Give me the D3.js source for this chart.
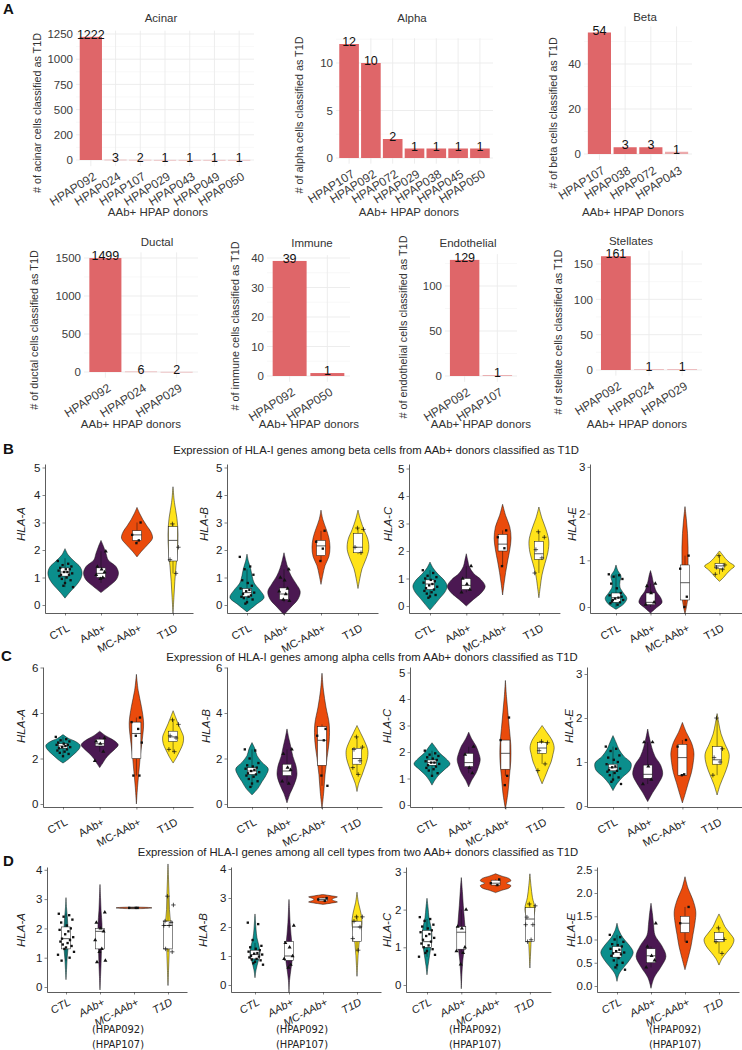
<!DOCTYPE html>
<html lang="en">
<head>
<meta charset="UTF-8">
<title>HLA-I expression in AAb+ donors classified as T1D</title>
<script src="https://cdn.jsdelivr.net/npm/d3@7"></script>
<style>
    body { margin: 0; background: #fff; }
    svg { display: block; font-family: "Liberation Sans", Arial, sans-serif; }
</style>
</head>
<body>
<svg id="fig" width="742" height="1050"></svg>
<script>
// ---------- panel A data ----------
const acinarDonors = ["HPAP092", "HPAP024", "HPAP107", "HPAP029", "HPAP043", "HPAP049", "HPAP050"];
const acinarCounts = [1222, 3, 2, 1, 1, 1, 1];
const alphaDonors = ["HPAP107", "HPAP092", "HPAP072", "HPAP029", "HPAP038", "HPAP045", "HPAP050"];
const alphaCounts = [12, 10, 2, 1, 1, 1, 1];
const betaDonors = ["HPAP107", "HPAP038", "HPAP072", "HPAP043"];
const betaCounts = [54, 3, 3, 1];
const ductalDonors = ["HPAP092", "HPAP024", "HPAP029"];
const ductalCounts = [1499, 6, 2];
const immuneDonors = ["HPAP092", "HPAP050"];
const immuneCounts = [39, 1];
const endoDonors = ["HPAP092", "HPAP107"];
const endoCounts = [129, 1];
const stellateDonors = ["HPAP092", "HPAP024", "HPAP029"];
const stellateCounts = [161, 1, 1];

const acinarTicks = [0, 250, 500, 750, 1000, 1250];
const acinarTickLabels = ["0", "200", "500", "750", "1000", "1250"]; // as printed in the figure
const alphaTicks = [0, 5, 10];
const betaTicks = [0, 20, 40];
const ductalTicks = [0, 500, 1000, 1500];
const immuneTicks = [0, 10, 20, 30, 40];
const endoTicks = [0, 50, 100];
const stellateTicks = [0, 50, 100, 150];

// ---------- panels B-D data ----------
const groups = ["CTL", "AAb+", "MC-AAb+", "T1D"];
const genes = ["HLA-A", "HLA-B", "HLA-C", "HLA-E"];
const donorNotes = ["(HPAP092)", "(HPAP107)"];

// violin = [low end, high end, relative density at 7 evenly spaced inner levels]
const betaViolins = [
    [[0.25, 2.05, [.28, .6, .85, .95, .85, .5, .17]], [0.45, 2.35, [.45, .85, .97, .83, .4, .28, .15]], [1.75, 3.55, [.28, .6, .86, .78, .55, .33, .15]], [-0.3, 4.3, [.05, .1, .17, .25, .28, .22, .08]]],
    [[-0.25, 1.85, [.5, .95, .72, .4, .28, .2, .08]], [-0.35, 1.9, [.4, .78, .9, .67, .4, .22, .1]], [0.75, 3.45, [.1, .22, .44, .5, .44, .28, .1]], [0.6, 3.45, [.1, .22, .44, .6, .55, .33, .14]]],
    [[-0.15, 1.6, [.28, .55, .83, .95, .78, .44, .17]], [0.0, 1.9, [.4, .83, 1.05, .83, .4, .17, .08]], [0.4, 3.7, [.08, .17, .28, .4, .47, .4, .17]], [0.3, 3.6, [.08, .17, .33, .5, .55, .4, .17]]],
    [[-0.05, 0.9, [.44, .6, .4, .22, .22, .28, .1]], [-0.13, 0.78, [.33, .64, .55, .33, .22, .14, .08]], [-0.15, 2.15, [.14, .17, .17, .17, .17, .14, .08]], [0.55, 1.2, [.22, .4, .6, .83, .55, .33, .17]]]
];
// box = [q1, median, q3, whisker low, whisker high]
const betaBoxes = [
    [[1.05, 1.2, 1.35, 0.65, 1.7], [1.0, 1.15, 1.35, 0.8, 1.95], [2.35, 2.55, 2.7, 2.25, 3.0], [1.6, 2.35, 2.85, 1.15, 2.95]],
    [[0.3, 0.45, 0.6, 0.05, 1.3], [0.2, 0.4, 0.62, 0.1, 1.3], [1.8, 2.15, 2.35, 1.6, 2.7], [1.9, 2.1, 2.6, 1.85, 2.8]],
    [[0.6, 0.8, 0.95, 0.3, 1.3], [0.6, 0.75, 1.0, 0.5, 1.45], [2.0, 2.25, 2.6, 1.45, 2.75], [1.7, 1.9, 2.35, 1.2, 2.7]],
    [[0.1, 0.2, 0.3, 0.0, 0.7], [0.05, 0.1, 0.3, 0.0, 0.5], [0.15, 0.52, 0.9, 0.0, 1.1], [0.82, 0.88, 0.93, 0.7, 1.1]]
];
const betaPoints = [
    [[1.6, 1.5, 1.45, 1.4, 1.35, 1.3, 1.3, 1.25, 1.2, 1.2, 1.15, 1.1, 1.1, 1.05, 1.0, 0.95, 0.9, 0.8, 0.7, 0.65], [1.95, 1.4, 1.3, 1.2, 1.1, 1.0, 0.95], [3.0, 2.55, 2.35, 2.25], [2.95, 2.1, 1.65, 1.15]],
    [[1.75, 1.4, 1.3, 1.1, 0.9, 0.8, 0.7, 0.6, 0.55, 0.5, 0.45, 0.4, 0.35, 0.3, 0.3, 0.25, 0.2, 0.1, 0.05], [1.3, 1.0, 0.9, 0.6, 0.5, 0.4, 0.2, 0.15], [2.7, 2.3, 2.05, 1.6], [2.8, 2.75, 2.1, 1.9]],
    [[1.3, 1.2, 1.1, 1.05, 1.0, 0.95, 0.9, 0.85, 0.8, 0.75, 0.7, 0.65, 0.6, 0.55, 0.5, 0.45, 0.4, 0.35, 0.3], [1.45, 1.0, 0.8, 0.6, 0.5], [2.75, 2.5, 2.1, 1.45], [2.7, 2.5, 2.05, 1.75, 1.2]],
    [[0.7, 0.68, 0.65, 0.6, 0.5, 0.4, 0.3, 0.25, 0.2, 0.18, 0.15, 0.12, 0.1, 0.08, 0.05, 0.15, 0.22], [0.5, 0.45, 0.3, 0.1, 0.05], [1.1, 0.82, 0.22, 0.0], [1.1, 0.9, 0.85, 0.8, 0.7]]
];

const alphaViolins = [
    [[1.8, 3.05, [.28, .5, .72, .9, .95, .72, .28]], [1.6, 3.2, [.17, .33, .55, .83, 1.03, .78, .33]], [0.0, 5.7, [.06, .14, .22, .33, .4, .28, .1]], [1.8, 4.1, [.22, .4, .55, .58, .44, .28, .14]]],
    [[0.4, 2.7, [.33, .55, .78, .9, .55, .28, .17]], [0.05, 3.3, [.17, .4, .55, .5, .33, .22, .1]], [-0.2, 5.75, [.1, .17, .28, .4, .4, .22, .08]], [0.55, 3.45, [.1, .28, .44, .58, .6, .44, .22]]],
    [[0.75, 2.35, [.17, .4, .72, 1.0, .78, .44, .22]], [0.68, 2.75, [.17, .4, .55, .64, .55, .4, .17]], [-0.15, 4.7, [.14, .22, .3, .3, .22, .14, .06]], [0.8, 3.0, [.17, .33, .5, .6, .67, .55, .28]]],
    [[0.35, 1.6, [.22, .55, .95, 1.0, .6, .33, .17]], [0.1, 1.75, [.28, .6, .83, .72, .4, .22, .1]], [0.07, 1.9, [.17, .33, .5, .6, .64, .5, .22]], [0.25, 2.1, [.17, .4, .6, .67, .44, .22, .1]]]
];
const alphaBoxes = [
    [[2.45, 2.55, 2.65, 2.1, 2.95], [2.55, 2.65, 2.85, 2.3, 2.95], [2.0, 3.1, 3.6, 1.25, 3.8], [2.75, 2.95, 3.2, 2.3, 3.7]],
    [[1.3, 1.45, 1.6, 0.75, 2.4], [1.25, 1.45, 1.75, 0.9, 2.4], [1.7, 2.8, 3.4, 0.8, 3.5], [1.75, 2.0, 2.45, 1.3, 2.95]],
    [[1.5, 1.6, 1.7, 1.1, 2.05], [1.45, 1.6, 1.95, 1.2, 2.2], [1.35, 1.95, 2.45, 1.1, 2.45], [1.95, 2.15, 2.35, 1.55, 2.4]],
    [[0.8, 0.87, 0.95, 0.55, 1.35], [0.63, 0.72, 0.93, 0.5, 1.45], [0.7, 1.1, 1.4, 0.7, 1.5], [0.95, 1.05, 1.35, 0.7, 2.0]]
];
const alphaPoints = [
    [[2.95, 2.85, 2.8, 2.75, 2.7, 2.65, 2.6, 2.6, 2.55, 2.5, 2.5, 2.45, 2.4, 2.35, 2.3, 2.25, 2.2, 2.1], [2.9, 2.75, 2.65, 2.3, 1.9], [3.8, 3.6, 3.3, 3.0, 2.7, 1.25, 1.25], [3.7, 3.5, 3.0, 2.9, 2.4, 2.3]],
    [[2.4, 2.35, 2.0, 1.8, 1.7, 1.65, 1.6, 1.55, 1.5, 1.45, 1.4, 1.35, 1.3, 1.25, 1.2, 1.1, 1.0, 0.9, 0.75], [2.4, 2.2, 1.6, 1.5, 1.0, 0.9], [3.3, 3.0, 2.8, 1.25, 0.8], [2.95, 2.5, 2.4, 1.9, 1.6, 1.3]],
    [[2.05, 1.95, 1.9, 1.85, 1.8, 1.75, 1.7, 1.65, 1.6, 1.6, 1.55, 1.5, 1.45, 1.4, 1.35, 1.3, 1.2, 1.1], [2.2, 1.9, 1.4, 1.2], [3.3, 2.45, 1.1, 0.75], [2.4, 2.35, 2.05, 1.55, 1.3]],
    [[1.35, 1.3, 1.25, 1.15, 1.1, 1.05, 1.0, 0.95, 0.9, 0.88, 0.85, 0.82, 0.8, 0.78, 0.75, 0.7, 0.65, 0.6, 0.55, 0.5], [1.45, 1.45, 0.9, 0.6, 0.5], [1.5, 1.35, 0.72, 0.7], [2.0, 1.3, 1.1, 1.0, 0.7]]
];

const allViolins = [
    [[0.25, 3.05, [.03, .06, .11, .14, .11, .08, .03]], [-0.1, 3.5, [.03, .06, .08, .11, .11, .06, .03]], [2.67, 2.73, [.5, .8, .95, 1.0, .95, .8, .5]], [0.05, 4.2, [.03, .06, .08, .14, .08, .06, .03]]],
    [[0.25, 2.45, [.06, .17, .28, .22, .11, .06, .03]], [-0.25, 2.95, [.03, .11, .19, .17, .11, .06, .03]], [2.78, 3.12, [.45, .8, .6, .5, .6, .8, .45]], [0.3, 3.2, [.03, .06, .11, .17, .28, .22, .08]]],
    [[0.27, 2.3, [.06, .14, .22, .28, .22, .11, .06]], [-0.1, 2.85, [.03, .08, .17, .22, .17, .11, .06]], [2.45, 2.95, [.35, .75, .85, .6, .85, .75, .35]], [0.45, 2.95, [.03, .06, .08, .14, .28, .14, .06]]],
    [[0.1, 1.35, [.11, .4, .72, .9, .67, .33, .11]], [-0.05, 1.78, [.17, .55, .83, .6, .22, .14, .08]], [0.35, 2.35, [.17, .33, .44, .55, .6, .44, .17]], [0.45, 1.55, [.17, .44, .72, .83, .6, .33, .17]]]
];
const allBoxes = [
    [[1.3, 1.65, 2.05, 0.9, 2.5], [1.3, 1.9, 2.0, 0.85, 2.55], [2.69, 2.7, 2.71, 2.69, 2.71], [1.3, 2.1, 2.25, 1.2, 3.1]],
    [[0.9, 1.05, 1.2, 0.75, 1.45], [0.85, 1.0, 1.5, 0.6, 2.05], [2.9, 2.95, 3.0, 2.88, 3.02], [1.5, 2.0, 2.2, 1.15, 2.4]],
    [[1.0, 1.15, 1.45, 0.75, 1.75], [0.95, 1.4, 1.55, 0.85, 2.0], [2.65, 2.7, 2.78, 2.62, 2.8], [1.15, 1.75, 2.05, 1.15, 2.15]],
    [[0.62, 0.72, 0.85, 0.35, 1.1], [0.5, 0.65, 0.8, 0.4, 0.85], [1.15, 1.35, 1.5, 0.95, 1.7], [0.95, 1.0, 1.15, 0.7, 1.25]]
];
const allPoints = [
    [[2.5, 2.45, 2.4, 2.3, 2.2, 2.1, 2.0, 1.95, 1.9, 1.8, 1.7, 1.65, 1.6, 1.55, 1.5, 1.45, 1.4, 1.35, 1.3, 1.2, 1.1, 1.0, 0.9], [2.55, 2.2, 2.0, 1.9, 1.6, 1.3, 1.2, 0.9, 0.85], [2.7, 2.7, 2.7], [3.1, 2.8, 2.25, 2.2, 2.1, 2.1, 1.3, 1.2]],
    [[2.15, 2.1, 1.55, 1.35, 1.3, 1.25, 1.2, 1.15, 1.1, 1.08, 1.05, 1.0, 0.98, 0.95, 0.9, 0.88, 0.85, 0.8, 0.75, 0.7], [2.05, 1.45, 1.3, 1.0, 0.9, 0.7, 0.6], [3.0, 2.95, 2.9], [2.35, 2.35, 2.2, 2.0, 1.6, 1.2]],
    [[1.8, 1.75, 1.7, 1.6, 1.55, 1.5, 1.45, 1.4, 1.35, 1.3, 1.25, 1.2, 1.15, 1.1, 1.05, 1.0, 0.95, 0.9, 0.85, 0.8, 0.75], [2.0, 1.55, 1.5, 1.0, 0.9, 0.85, 0.55], [2.8, 2.7, 2.65], [2.15, 2.1, 1.8, 1.6, 1.6, 1.2, 1.15]],
    [[1.1, 1.05, 1.0, 0.95, 0.9, 0.88, 0.85, 0.8, 0.78, 0.75, 0.72, 0.7, 0.68, 0.65, 0.6, 0.55, 0.5, 0.45, 0.4, 0.35], [1.35, 0.85, 0.65, 0.55, 0.4], [1.7, 1.35, 0.95], [1.25, 1.0, 0.95, 0.7]]
];

const betaAxisTicks = [[0, 1, 2, 3, 4, 5], [0, 1, 2, 3, 4, 5], [0, 1, 2, 3, 4, 5], [0, 1, 2, 3]];
const alphaAxisTicks = [[0, 2, 4, 6], [0, 2, 4, 6], [0, 1, 2, 3, 4, 5], [0, 1, 2, 3]];
const allAxisTicks = [[0, 1, 2, 3, 4], [0, 1, 2, 3, 4], [0, 1, 2, 3], [0, 0.5, 1, 1.5, 2, 2.5]];

// ---------- styles ----------
const barColor = "#DF6669";
const groupColors = ["#0B8E8C", "#4B1852", "#EA4B0C", "#FFE31A"];
const jitter = [-0.9, 0.4, -0.3, 0.8, -0.6, 0.1, 0.6, -0.8, 0.3, -0.1, 0.9, -0.5, 0.5, -0.7, 0.2, -0.4, 0.7, 0.0, -0.2, 1.0, -1.0, 0.45, -0.55];

const svg = d3.select("#fig");

// ---------- panel A ----------
const barLayout = [
    { donors: acinarDonors, counts: acinarCounts, ticks: acinarTicks, labels: acinarTickLabels, left: 76, right: 254, zeroY: 160, refVal: 1250, refY: 34,
      title: "Acinar", titleX: 161, titleY: 22, ylab: "# of acinar cells classified as T1D", ylabX: 38, ylabY: 113, xlab: "AAb+ HPAP donors", xlabX: 158, xlabY: 216 },
    { donors: alphaDonors, counts: alphaCounts, ticks: alphaTicks, left: 336, right: 493, zeroY: 158, refVal: 10, refY: 63,
      title: "Alpha", titleX: 412, titleY: 22, ylab: "# of alpha cells classified as T1D", ylabX: 300, ylabY: 115, xlab: "AAb+ HPAP donors", xlabX: 409, xlabY: 216 },
    { donors: betaDonors, counts: betaCounts, ticks: betaTicks, left: 584, right: 692, zeroY: 154, refVal: 40, refY: 64,
      title: "Beta", titleX: 645, titleY: 21, ylab: "# of beta cells classified as T1D", ylabX: 554, ylabY: 113, xlab: "AAb+ HPAP Donors", xlabX: 633, xlabY: 216 },
    { donors: ductalDonors, counts: ductalCounts, ticks: ductalTicks, left: 84, right: 198, zeroY: 372, refVal: 1500, refY: 258,
      title: "Ductal", titleX: 157, titleY: 246, ylab: "# of ductal cells classified as T1D", ylabX: 35, ylabY: 330, xlab: "AAb+ HPAP donors", xlabX: 131, xlabY: 428 },
    { donors: immuneDonors, counts: immuneCounts, ticks: immuneTicks, left: 267, right: 350, zeroY: 376, refVal: 40, refY: 258,
      title: "Immune", titleX: 312, titleY: 247, ylab: "# of immune cells classified as T1D", ylabX: 236, ylabY: 326, xlab: "AAb+ HPAP donors", xlabX: 309, xlabY: 428 },
    { donors: endoDonors, counts: endoCounts, ticks: endoTicks, left: 445, right: 517, zeroY: 376, refVal: 100, refY: 286,
      title: "Endothelial", titleX: 468, titleY: 247, ylab: "# of endothelial cells classified as T1D", ylabX: 404, ylabY: 327, xlab: "AAb+ HPAP donors", xlabX: 481, xlabY: 428 },
    { donors: stellateDonors, counts: stellateCounts, ticks: stellateTicks, left: 596, right: 702, zeroY: 370, refVal: 150, refY: 264,
      title: "Stellates", titleX: 631, titleY: 245, ylab: "# of stellate cells classified as T1D", ylabX: 559, ylabY: 332, xlab: "AAb+ HPAP donors", xlabX: 637, xlabY: 428 }
];

barLayout.forEach(drawBars);

function drawBars(p) {
    const g = svg.append("g");
    const x = d3.scaleBand().domain(p.donors).range([p.left, p.right]).paddingInner(0.1).paddingOuter(0.15);
    const max = d3.max(p.counts);
    const k = (p.zeroY - p.refY) / p.refVal;
    const lo = -0.05 * max, hi = 1.05 * max;
    const y = d3.scaleLinear().domain([lo, hi]).range([p.zeroY - lo * k, p.zeroY - hi * k]);
    const step = p.ticks[1] - p.ticks[0];
    const minor = p.ticks.map(t => t + step / 2).concat([p.ticks[0] - step / 2]).filter(t => t > lo && t < hi);
    const cx = d => x(d) + x.bandwidth() / 2;

    g.selectAll(".minor").data(minor).join("line").attr("class", "minor")
        .attr("x1", p.left).attr("x2", p.right).attr("y1", d => y(d)).attr("y2", d => y(d))
        .attr("stroke", "#f3f3f3").attr("stroke-width", 0.6);
    g.selectAll(".major").data(p.ticks).join("line").attr("class", "major")
        .attr("x1", p.left).attr("x2", p.right).attr("y1", d => y(d)).attr("y2", d => y(d))
        .attr("stroke", "#ebebeb").attr("stroke-width", 0.9);
    g.selectAll(".vgrid").data(p.donors).join("line").attr("class", "vgrid")
        .attr("x1", cx).attr("x2", cx).attr("y1", y(hi)).attr("y2", y(lo))
        .attr("stroke", "#ebebeb").attr("stroke-width", 0.9);

    g.selectAll(".bar").data(p.counts).join("rect").attr("class", "bar")
        .attr("x", (d, i) => x(p.donors[i])).attr("width", x.bandwidth())
        .attr("y", d => y(d)).attr("height", d => Math.max(0.6, y(0) - y(d)))
        .attr("fill", barColor).attr("fill-opacity", d => d / max < 0.02 ? 0.55 : 1);

    g.selectAll(".val").data(p.counts).join("text").attr("class", "val")
        .attr("x", (d, i) => cx(p.donors[i])).attr("y", d => y(d) + 2)
        .attr("text-anchor", "middle").attr("font-size", 12.5).attr("fill", "#111").text(d => d);

    const yAxis = g.append("g").attr("transform", `translate(${p.left},0)`)
        .call(d3.axisLeft(y).tickValues(p.ticks).tickSize(0).tickPadding(3)
            .tickFormat((d, i) => p.labels ? p.labels[i] : d));
    yAxis.select(".domain").remove();
    yAxis.attr("font-family", null).selectAll("text").attr("font-size", 11.5).attr("fill", "#3a3a3a");

    const xAxis = g.append("g").attr("transform", `translate(0,${y(lo)})`)
        .call(d3.axisBottom(x).tickSize(0));
    xAxis.select(".domain").remove();
    xAxis.attr("font-family", null).selectAll("text")
        .attr("y", 0).attr("dy", "0.35em").attr("text-anchor", "end")
        .attr("transform", "translate(4,9) rotate(-32)")
        .attr("font-size", 12).attr("fill", "#3a3a3a");

    g.append("text").attr("x", p.titleX).attr("y", p.titleY).attr("text-anchor", "middle")
        .attr("font-size", 11.5).attr("fill", "#333").text(p.title);
    g.append("text").attr("transform", `translate(${p.ylabX},${p.ylabY}) rotate(-90)`)
        .attr("text-anchor", "middle").attr("dominant-baseline", "middle")
        .attr("font-size", 10.8).attr("fill", "#333").text(p.ylab);
    g.append("text").attr("x", p.xlabX).attr("y", p.xlabY).attr("text-anchor", "middle")
        .attr("font-size", 11.5).attr("fill", "#333").text(p.xlab);
}

// ---------- panels B-D ----------
const violinLayout = [
    { title: "Expression of HLA-I genes among beta cells from AAb+ donors classified as T1D", titleX: 376, titleY: 454,
      violins: betaViolins, boxes: betaBoxes, points: betaPoints, ticks: betaAxisTicks,
      topY: 464, bottomY: 613, ylabY: 524, italic: false, notes: false, labelShift: 14, labelAngle: -28,
      geo: [{ axisX: 45, first: 65, step: 36, zeroY: 605, unit: 27.5, ylabX: 22 },
            { axisX: 227, first: 247, step: 37, zeroY: 605, unit: 27.5, ylabX: 205 },
            { axisX: 409, first: 430, step: 36.3, zeroY: 606, unit: 27.5, ylabX: 389 },
            { axisX: 590, first: 616, step: 34.5, zeroY: 607, unit: 46.7, ylabX: 573 }] },
    { title: "Expression of HLA-I genes among alpha cells from AAb+ donors classified as T1D", titleX: 372, titleY: 661,
      violins: alphaViolins, boxes: alphaBoxes, points: alphaPoints, ticks: alphaAxisTicks,
      topY: 667, bottomY: 807, ylabY: 726, italic: false, notes: false, labelShift: 14, labelAngle: -28,
      geo: [{ axisX: 43, first: 63, step: 36.7, zeroY: 804, unit: 22.75, ylabX: 22 },
            { axisX: 227, first: 252, step: 35, zeroY: 804, unit: 22.75, ylabX: 207 },
            { axisX: 410, first: 432, step: 36.7, zeroY: 805, unit: 26.5, ylabX: 388 },
            { axisX: 587, first: 613, step: 34.7, zeroY: 806, unit: 44, ylabX: 570 }] },
    { title: "Expression of HLA-I genes among all cell types from two AAb+ donors classified as T1D", titleX: 358, titleY: 856,
      violins: allViolins, boxes: allBoxes, points: allPoints, ticks: allAxisTicks,
      topY: 867, bottomY: 992, ylabY: 930, italic: true, notes: true, labelShift: 9, labelAngle: -28,
      geo: [{ axisX: 47, first: 66, step: 34, zeroY: 987, unit: 29.3, ylabX: 22, noteX: 118 },
            { axisX: 231, first: 255, step: 34, zeroY: 985, unit: 29, ylabX: 204, noteX: 302 },
            { axisX: 406, first: 427, step: 34.3, zeroY: 985, unit: 37.7, ylabX: 388, noteX: 475 },
            { axisX: 597, first: 617, step: 34, zeroY: 986, unit: 46.5, ylabX: 572, noteX: 675 }] }
];

const panelLetters = [["A", 3, 14], ["B", 3, 454], ["C", 1, 661], ["D", 3, 866]];
svg.selectAll(".letter").data(panelLetters).join("text").attr("class", "letter")
    .attr("x", d => d[1]).attr("y", d => d[2]).attr("font-size", 15).attr("font-weight", "bold")
    .attr("fill", "#111").text(d => d[0]);

const widthScale = d3.scaleLinear().domain([0, 1]).range([0, 18]);

violinLayout.forEach(row => {
    svg.append("text").attr("x", row.titleX).attr("y", row.titleY).attr("text-anchor", "middle")
        .attr("font-size", 11.3).attr("fill", "#222").text(row.title);
    genes.forEach((gene, gi) => drawViolins(row, gene, gi));
});

function drawViolins(row, gene, gi) {
    const geo = row.geo[gi];
    const g = svg.append("g");
    const pad = (geo.first - geo.axisX) / geo.step;
    const right = geo.axisX + geo.step * (groups.length - 1 + 2 * pad);
    const x = d3.scalePoint().domain(groups).range([geo.axisX, right]).padding(pad);
    const y = d3.scaleLinear()
        .domain([(geo.zeroY - row.bottomY) / geo.unit, (geo.zeroY - row.topY) / geo.unit])
        .range([row.bottomY, row.topY]);

    groups.forEach((grp, k) => {
        const cx = x(grp);
        const [lo, hi, dens] = row.violins[gi][k];
        const prof = [0, ...dens, 0].map((d, i) => ({ v: lo + i * (hi - lo) / (dens.length + 1), d }));
        const area = d3.area().curve(d3.curveCatmullRom.alpha(0.5))
            .y(p => y(p.v)).x0(p => cx - widthScale(p.d)).x1(p => cx + widthScale(p.d));
        g.append("path").attr("d", area(prof)).attr("fill", groupColors[k])
            .attr("stroke", "#111").attr("stroke-width", 0.5);

        const [q1, med, q3, wl, wh] = row.boxes[gi][k];
        g.append("line").attr("x1", cx).attr("x2", cx).attr("y1", y(wh)).attr("y2", y(q3))
            .attr("stroke", "#111").attr("stroke-width", 0.5);
        g.append("line").attr("x1", cx).attr("x2", cx).attr("y1", y(q1)).attr("y2", y(wl))
            .attr("stroke", "#111").attr("stroke-width", 0.5);
        g.append("rect").attr("x", cx - 4.5).attr("width", 9).attr("y", y(q3))
            .attr("height", Math.max(0.8, y(q1) - y(q3)))
            .attr("fill", "#fff").attr("stroke", "#111").attr("stroke-width", 0.5);
        g.append("line").attr("x1", cx - 4.5).attr("x2", cx + 4.5).attr("y1", y(med)).attr("y2", y(med))
            .attr("stroke", "#111").attr("stroke-width", 0.7);

        const amp = k === 0 ? 8 : 6;
        const pts = row.points[gi][k].map((v, i) => ({ x: cx + jitter[(i + 3 * k) % jitter.length] * amp, y: y(v) }));
        const sym = g.selectAll(null).data(pts).join("path")
            .attr("transform", d => `translate(${d.x},${d.y})`);
        if (k === 3) {
            sym.attr("d", "M-2.2,0H2.2M0,-2.2V2.2").attr("stroke", "#111").attr("stroke-width", 0.7).attr("fill", "none");
        } else if (k === 1) {
            sym.attr("d", d3.symbol(d3.symbolTriangle, 7)).attr("fill", "#111");
        } else {
            sym.attr("d", d3.symbol(d3.symbolSquare, 5.5)).attr("fill", "#111");
        }
    });

    const fmt = row.ticks[gi].some(t => t % 1) ? d3.format(".1f") : d3.format("d");
    const yAxis = g.append("g").attr("transform", `translate(${geo.axisX},0)`)
        .call(d3.axisLeft(y).tickValues(row.ticks[gi]).tickSize(2.5).tickSizeOuter(0).tickPadding(2).tickFormat(fmt));
    yAxis.attr("font-family", null);
    yAxis.select(".domain").attr("stroke", "#333").attr("stroke-width", 0.8);
    yAxis.selectAll(".tick line").attr("stroke", "#333").attr("stroke-width", 0.6);
    yAxis.selectAll("text").attr("font-size", 11.5).attr("fill", "#222");

    const xAxis = g.append("g").attr("transform", `translate(0,${row.bottomY})`)
        .call(d3.axisBottom(x).tickSize(2.5).tickSizeOuter(0));
    xAxis.attr("font-family", null);
    xAxis.select(".domain").attr("stroke", "#333").attr("stroke-width", 0.8);
    xAxis.selectAll(".tick line").attr("stroke", "#333").attr("stroke-width", 0.6);
    xAxis.selectAll("text")
        .attr("y", 0).attr("dy", "0.35em").attr("text-anchor", "end")
        .attr("transform", `translate(3,${row.labelShift}) rotate(${row.labelAngle})`)
        .attr("font-size", 11).attr("fill", "#222")
        .attr("font-style", row.italic ? "italic" : null);

    g.append("text").attr("transform", `translate(${geo.ylabX},${row.ylabY}) rotate(-90)`)
        .attr("text-anchor", "middle").attr("dominant-baseline", "middle")
        .attr("font-size", 11.5).attr("font-style", "italic").attr("fill", "#222").text(gene);

    if (row.notes) {
        g.selectAll(".note").data(donorNotes).join("text").attr("class", "note")
            .attr("x", geo.noteX).attr("y", (d, i) => 1033 + i * 15).attr("text-anchor", "middle")
            .attr("font-family", "'Liberation Sans Narrow', 'DejaVu Sans Condensed', sans-serif")
            .attr("font-size", 11).attr("fill", "#222").text(d => d);
    }
}
</script>
</body>
</html>
